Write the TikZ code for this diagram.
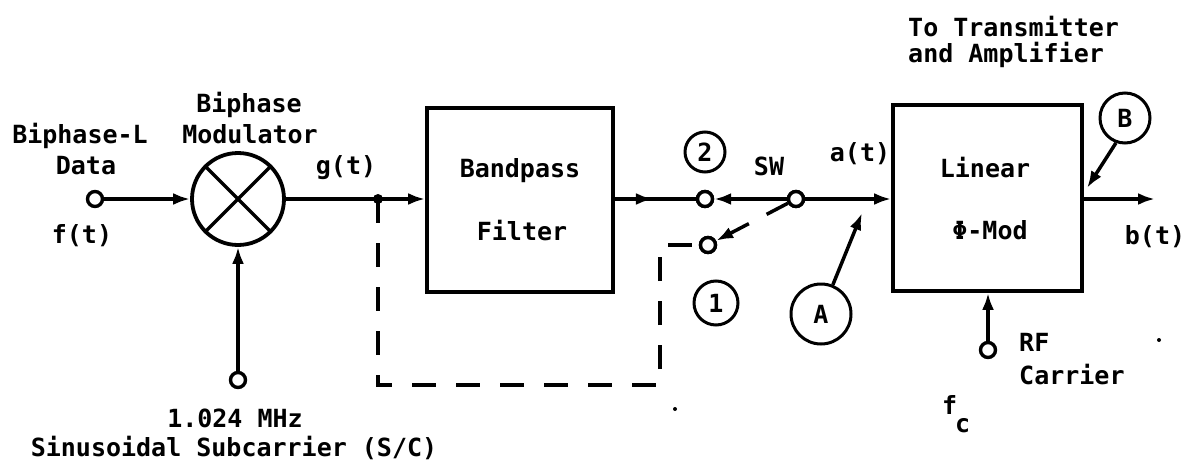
\documentclass[tikz,border=0pt]{standalone}
\usepackage{fontspec}
\setmainfont{DejaVu Sans Mono}
\usetikzlibrary{arrows.meta,decorations.markings}
\begin{document}
\begin{tikzpicture}[x=1pt,y=-1pt,
 every node/.style={font=\bfseries\fontsize{25}{30}\selectfont, inner sep=0pt},
 ln/.style={line width=3.5pt},
 tip/.style={-{Latex[length=17pt,width=12pt]}},
 term/.style={circle, draw, line width=3.4pt, fill=white, minimum size=15pt},
 blk/.style={draw, line width=3.8pt, minimum width=186pt, minimum height=184pt},
 tag/.style={circle, draw, line width=3pt},
 dsh/.style={line width=3.5pt, dash pattern=on 24pt off 20pt},
 midarr/.style={postaction={decorate}, decoration={markings, mark=at position #1 with {\arrow{Latex[length=17pt,width=12pt]}}}}
]
\useasboundingbox (0,0) rectangle (1189,463);

% main blocks and terminals
\node[term] (din) at (95,199) {};
\node[circle, draw, line width=3.8pt, minimum size=92pt] (mod) at (238,199) {};
\draw[ln] (mod.north west) -- (mod.south east) (mod.north east) -- (mod.south west);
\coordinate (j) at (378,199);
\node[blk] (bpf) at (520,200) {};
\node[term] (c2) at (705,199) {};
\node[term] (c1) at (708,245) {};
\node[term] (pv) at (796,199) {};
\node[blk, minimum width=189pt, minimum height=186pt] (lin) at (987.5,198) {};
\coordinate (bout) at (1155,199);
\node[term] (rf) at (988,350) {};
\node[term] (sc) at (238,380) {};
\coordinate (fbl) at (378,385);
\coordinate (fbr) at (660,385);

% connectors
\draw[ln,tip] (din) -- (mod);
\draw[ln] (mod.east) -- (j);
\fill (j) circle (5pt);
\draw[ln,tip] (j) -- (bpf.west |- j);
\draw[ln,midarr=0.47] (bpf.east |- j) -- (c2);
\draw[ln,tip] (pv) -- (c2);
\draw[ln,tip] (pv) -- (lin.west |- pv);
\draw[dsh,tip] (pv) -- (c1);
\draw[dsh] (j) -- (fbl) -- (fbr) -- (c1.west -| fbr) -- (c1.west);
\draw[ln,tip] (sc) -- (mod.south);
\draw[ln,tip] (rf) -- (rf |- lin.south);
\draw[ln,tip] (lin.east |- bout) -- (bout);
\node[term] at (c2) {};
\node[term] at (c1) {};
\node[term] at (pv) {};

% tags
\node[tag, minimum size=40pt] (t2) at (705,152) {2};
\node[tag, minimum size=44pt] (t1) at (716,303) {1};
\node[tag, minimum size=60pt] (tA) at (821,314) {A};
\node[tag, minimum size=50pt] (tB) at (1125,118) {B};
\coordinate (pA) at (862,213);
\coordinate (pB) at (1087,188);
\draw[ln,tip] (tA) -- (pA);
\draw[ln,tip] (tB.250) -- (pB);

% specks
\fill (675,409) circle (2pt);
\fill (1159,340) circle (2pt);

% labels
\node[anchor=base west] (lx1) at (908,36) {To Transmitter};
\node[anchor=base west] (lx2) at (908,62) {and Amplifier};
\node[anchor=base] (lbm1) at (249,112) {Biphase};
\node[anchor=base] (lbm2) at (250,143) {Modulator};
\node[anchor=base] (lbd1) at (80,143) {Biphase-L};
\node[anchor=base] (lbd2) at (86,174) {Data};
\node[anchor=base] (lf) at (82,243) {f(t)};
\node[anchor=base] (lg) at (346,174) {g(t)};
\node[anchor=base] (lbp1) at (520,177) {Bandpass};
\node[anchor=base] (lbp2) at (522,240) {Filter};
\node[anchor=base] (lsw) at (769,175) {SW};
\node[anchor=base] (la) at (860,161) {a(t)};
\node[anchor=base] (ll1) at (985,177) {Linear};
\node[anchor=base] (ll2) at (990,239) {Φ-Mod};
\node[anchor=base] (lb) at (1155,244) {b(t)};
\node[anchor=base west] (lrf1) at (1019,351) {RF};
\node[anchor=base west] (lrf2) at (1019,384) {Carrier};
\node[anchor=base west] (lfc) at (942,414) {f};
\node[anchor=base west] (lfcs) at (955,432) {c};
\node[anchor=base] (lsc1) at (235,427) {1.024 MHz};
\node[anchor=base] (lsc2) at (234,456) {Sinusoidal Subcarrier (S/C)};
\end{tikzpicture}
\end{document}
